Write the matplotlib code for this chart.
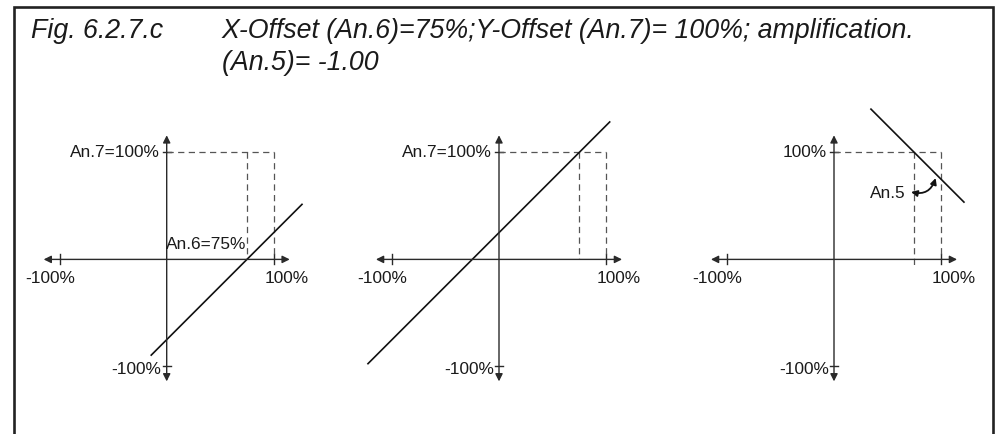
import matplotlib
matplotlib.use("Agg")
import matplotlib.pyplot as plt
import numpy as np

plt.rcParams['font.family'] = ['Liberation Sans', 'DejaVu Sans']

# transfer line of each panel: passes through (anchor_x, anchor_y) with slope gain
anchor_x = [0.75, 0.75, 0.75]
anchor_y = [0.0, 1.0, 1.0]
gain = [1.0, 1.0, -1.0]
x_start = [-0.15, -1.23, 0.34]
x_end = [1.27, 1.04, 1.22]

# dashed guide lines (x offset, 100%)
x_offset = 0.75
full = 1.0

y_top_labels = ["An.7=100%", "An.7=100%", "100%"]
y_bot_label = "-100%"
x_labels = ["-100%", "100%"]

title_left = "Fig. 6.2.7.c"
title_line1 = "X-Offset (An.6)=75%;Y-Offset (An.7)= 100%; amplification."
title_line2 = "(An.5)= -1.00"

W, H = 998, 434
fig = plt.figure(figsize=(W / 100, H / 100), dpi=100)

# frame (open at bottom)
frame_x = np.array([14, 14, 993, 993]) / W
frame_y = 1 - np.array([434, 7, 7, 434]) / H
fig.add_artist(plt.Line2D(frame_x, frame_y, color="#222222", lw=1.9,
                          transform=fig.transFigure, solid_joinstyle="miter"))

tstyle = dict(fontsize=19.3, style="italic", color="#1a1a1a", va="baseline",
              transform=fig.transFigure)
fig.text(31 / W, 1 - 38.5 / H, title_left, **tstyle)
fig.text(222 / W, 1 - 38.5 / H, title_line1, **tstyle)
fig.text(222 / W, 1 - 70 / H, title_line2, **tstyle)

unit = 107.0
origins_x = [166.7, 499.0, 834.0]
origin_y = 259.4
half = 1.5

axis_col = "#2a2a2a"
lab = dict(fontsize=12.4, color="#1a1a1a")

for i in range(3):
    ox = origins_x[i]
    rect = [(ox - half * unit) / W, (H - origin_y - half * unit) / H,
            2 * half * unit / W, 2 * half * unit / H]
    ax = fig.add_axes(rect)
    ax.set_xlim(-half, half)
    ax.set_ylim(-half, half)
    ax.axis("off")

    # axes with arrows at both ends
    arr = dict(arrowstyle="<|-|>", color=axis_col, lw=1.0, mutation_scale=11,
               shrinkA=0, shrinkB=0)
    ax.annotate("", xy=(1.15, 0), xytext=(-1.15, 0), arrowprops=arr)
    ax.annotate("", xy=(0, 1.16), xytext=(0, -1.14), arrowprops=arr)

    # ticks at +-100%
    tk = 5 / unit
    for v in (-1, 1):
        ax.plot([v, v], [-tk, tk], color=axis_col, lw=1.0)
        ax.plot([-tk * 0.8, tk * 0.8], [v, v], color=axis_col, lw=1.0)

    # dashed guides
    dash = dict(color="#555555", lw=0.9, dashes=(5, 3.5))
    ax.plot([0, full], [full, full], **dash)
    ax.plot([full, full], [full, 0], **dash)
    low = -0.07 if i == 2 else 0
    ax.plot([x_offset, x_offset], [full, low], **dash)

    # transfer line
    xs = np.array([x_start[i], x_end[i]])
    ys = anchor_y[i] + gain[i] * (xs - anchor_x[i])
    ax.plot(xs, ys, color="#111111", lw=1.2, solid_capstyle="butt")

    # labels
    ax.text(-0.065, 1.0, y_top_labels[i], ha="right", va="center", **lab)
    ax.text(-0.05, -1.03, y_bot_label, ha="right", va="center", **lab)
    ax.text(-1.09, -0.11, x_labels[0], ha="center", va="top", **lab)
    ax.text(1.12, -0.11, x_labels[1], ha="center", va="top", **lab)

    if i == 0:
        ax.text(x_offset - 0.01, 0.07, "An.6=75%", ha="right", va="bottom", **lab)
    if i == 2:
        ax.annotate("", xy=(0.95, 0.76), xytext=(0.72, 0.63),
                    arrowprops=dict(arrowstyle="<|-|>", color="#111111", lw=1.3,
                                    mutation_scale=9, shrinkA=0, shrinkB=0,
                                    connectionstyle="arc3,rad=0.45"))
        ax.text(0.665, 0.62, "An.5", ha="right", va="center", **lab)

fig.savefig("out.png", dpi=100)
